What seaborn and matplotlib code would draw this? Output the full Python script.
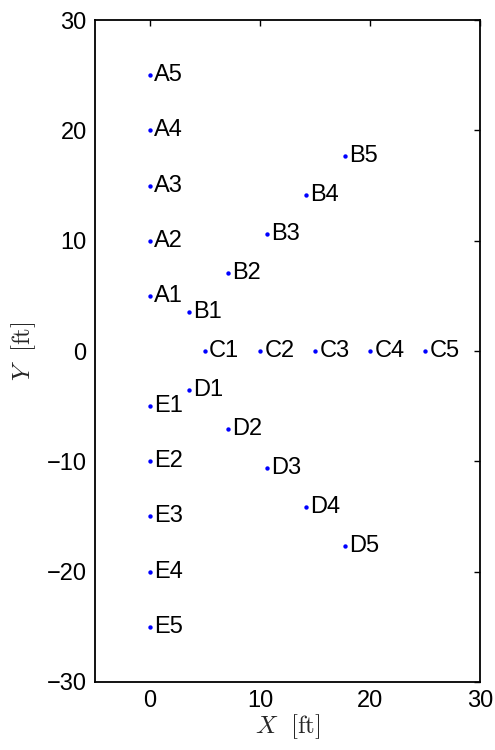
import numpy as np
import pandas as pd
import matplotlib
matplotlib.use("Agg")
import matplotlib.pyplot as plt
import seaborn as sns

# Sensor positions (ft) along five radial lines
names = ["A1", "A2", "A3", "A4", "A5",
         "B1", "B2", "B3", "B4", "B5",
         "C1", "C2", "C3", "C4", "C5",
         "D1", "D2", "D3", "D4", "D5",
         "E1", "E2", "E3", "E4", "E5"]
x_pos = [0, 0, 0, 0, 0,
         3.54, 7.07, 10.61, 14.14, 17.68,
         5, 10, 15, 20, 25,
         3.54, 7.07, 10.61, 14.14, 17.68,
         0, 0, 0, 0, 0]
y_pos = [5, 10, 15, 20, 25,
         3.54, 7.07, 10.61, 14.14, 17.68,
         0, 0, 0, 0, 0,
         -3.54, -7.07, -10.61, -14.14, -17.68,
         -5, -10, -15, -20, -25]
x_ticks = [0, 10, 20, 30]
y_ticks = [-30, -20, -10, 0, 10, 20, 30]

df = pd.DataFrame({"name": names, "x": x_pos, "y": y_pos})

sns.set_style("white")
plt.rcParams["font.family"] = ["Liberation Sans", "DejaVu Sans"]
plt.rcParams["mathtext.fontset"] = "cm"

fig = plt.figure(figsize=(4.95, 7.5), dpi=100)
ax = fig.add_axes([0.192, 0.0907, 0.778, 0.8826])

sns.scatterplot(data=df, x="x", y="y", ax=ax, color="#0000ff",
                s=10, linewidth=0, legend=False, zorder=3)

for n, xv, yv in zip(df["name"], df["x"], df["y"]):
    ax.annotate(n, (xv, yv), xytext=(3, 0), textcoords="offset points",
                ha="left", va="center", fontsize=17, color="black")

ax.set_xlim(-5, 30)
ax.set_ylim(-30, 30)
ax.set_xticks(x_ticks)
ax.set_yticks(y_ticks)
ax.set_xticklabels([str(t) for t in x_ticks])
ax.set_yticklabels([str(t).replace("-", "\u2212") for t in y_ticks])
ax.tick_params(direction="in", length=4, width=1, top=True, right=True,
               labelsize=17, pad=6, colors="black")

for sp in ax.spines.values():
    sp.set_visible(True)
    sp.set_linewidth(1.3)
    sp.set_color("black")

ax.set_xlabel(r"$X\ \ [\mathrm{ft}]$", fontsize=18, labelpad=0)
ax.set_ylabel(r"$Y\ \ [\mathrm{ft}]$", fontsize=18, labelpad=6)

fig.savefig("out.png", dpi=100)
